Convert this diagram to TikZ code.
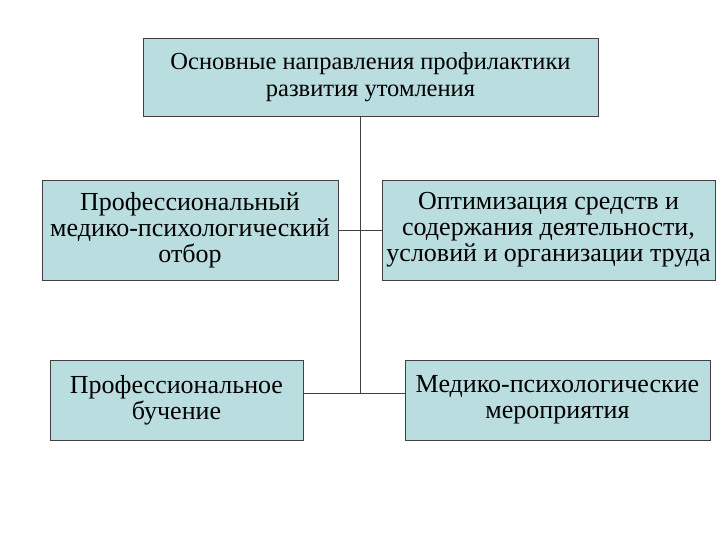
\documentclass[tikz,border=0pt]{standalone}
\usepackage{fontspec}
\setmainfont{Liberation Serif}
\begin{document}
\begin{tikzpicture}[x=1pt,y=-1pt,
  box/.style={draw=black!75,fill=boxfill,line width=0.8pt,inner sep=0pt,
    font=\fontsize{26}{26}\selectfont,align=center},
  conn/.style={draw=black!75,line width=0.8pt}]
\definecolor{boxfill}{HTML}{BADDE0}
\useasboundingbox (0,0) rectangle (720,540);
\node[box,font=\fontsize{24.5}{27}\selectfont,minimum width=455pt,minimum height=78pt] (top) at (370.5,77) {Основные направления профилактики\\развития утомления};
\node[box,minimum width=296pt,minimum height=100pt] (l1) at (190,230) {Профессиональный\\медико-психологический\\отбор};
\node[box,minimum width=333pt,minimum height=100pt] (r1) at (548.5,230) {Оптимизация средств и\\содержания деятельности,\\условий и организации труда};
\node[box,minimum width=253pt,minimum height=80pt] (l2) at (176.5,400) {Профессиональное\\бучение};
\node[box,minimum width=305pt,minimum height=80pt] (r2) at (557.5,400) {Медико-психологические\\мероприятия};
\coordinate (j1) at (360,230);
\coordinate (j2) at (360,393);
\draw[conn] (top.south -| j1) -- (j2);
\draw[conn] (l1.east) -- (r1.west);
\draw[conn] (l2.east |- j2) -- (r2.west |- j2);
\end{tikzpicture}
\end{document}
